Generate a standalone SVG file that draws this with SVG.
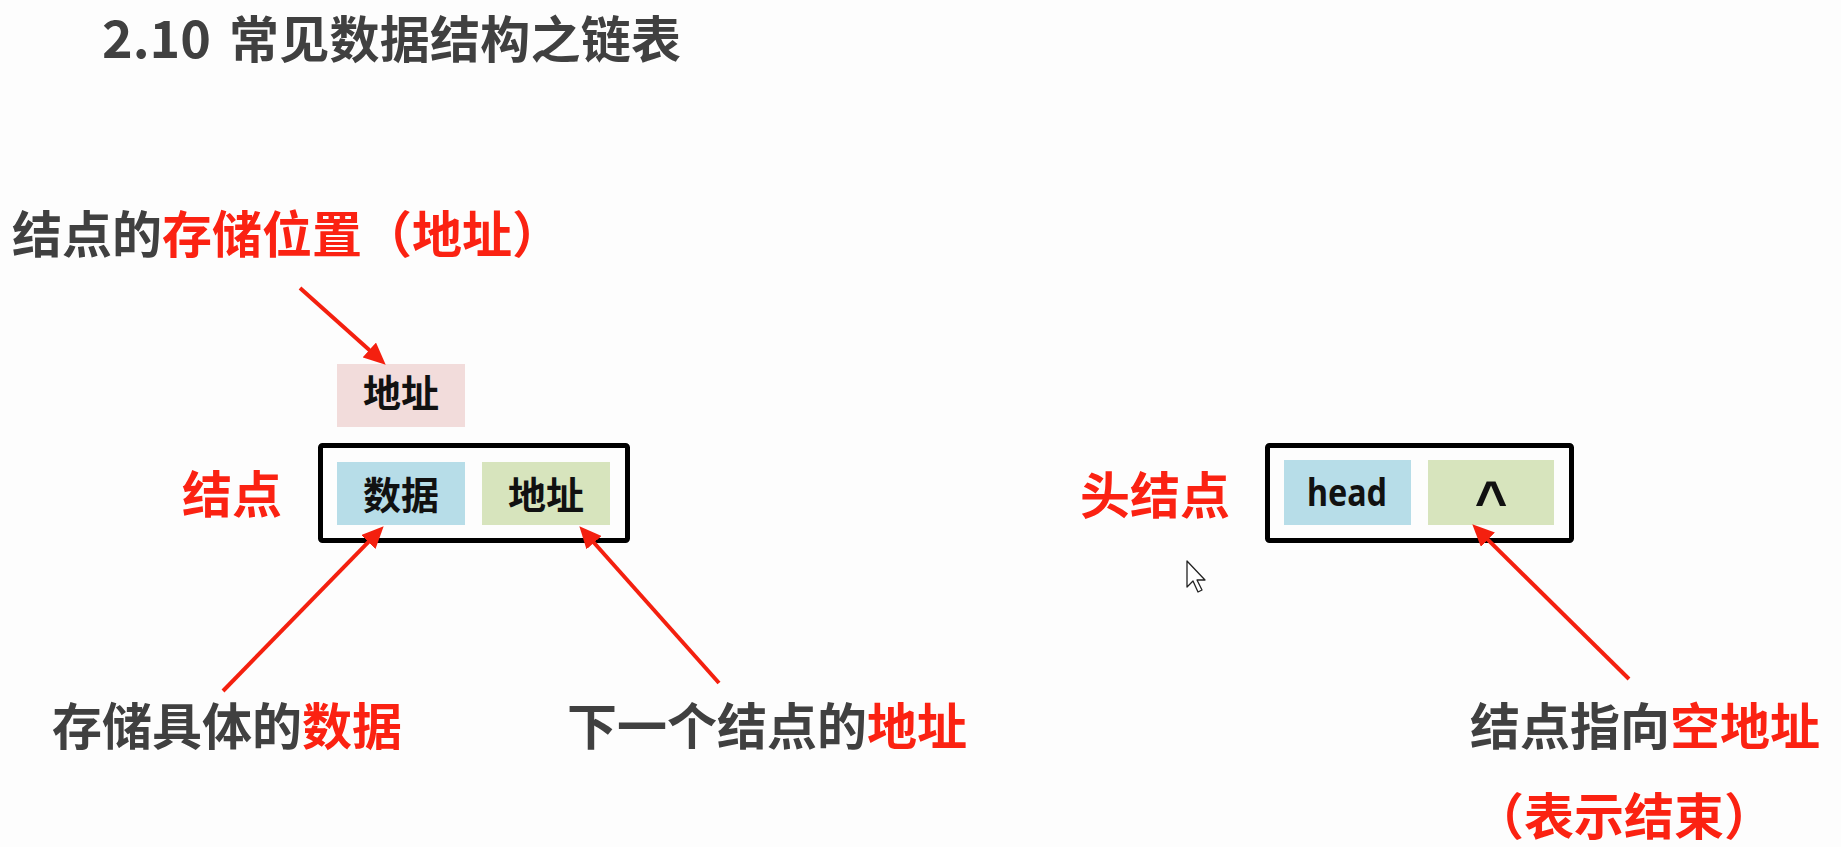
<svg xmlns="http://www.w3.org/2000/svg" width="1841" height="847" viewBox="0 0 1841 847">
  <style>
    .cjk { font-family: "Noto Sans CJK SC", "Noto Sans", sans-serif; font-weight: 700; }
    .gray { fill: #404040; }
    .red { fill: #fb2212; }
    .lbl { font-size: 50px; }
    .cell { font-size: 38px; fill: #111111; text-anchor: middle; }
    .frame { fill: none; stroke: #000000; stroke-width: 5; }
    .arrow { fill: none; stroke: #f4200f; stroke-width: 4; marker-end: url(#ah); }
  </style>
  <defs>
    <marker id="ah" markerUnits="userSpaceOnUse" markerWidth="24" markerHeight="20" refX="9" refY="10" orient="auto">
      <path d="M0,0 L22,10 L0,20 Z" fill="#f4200f"/>
    </marker>
  </defs>
  <rect x="0" y="0" width="1841" height="847" fill="#fdfdfd"/>

  <g id="title">
    <text class="cjk gray" x="102" y="58" font-size="52">2.10</text>
    <text class="cjk gray" x="229" y="58" font-size="50" textLength="452" lengthAdjust="spacing">常见数据结构之链表</text>
  </g>

  <g id="label-storage">
    <text class="cjk lbl" x="12" y="253"><tspan class="gray">结点的</tspan><tspan class="red">存储位置（地址）</tspan></text>
  </g>

  <g id="addr-box">
    <rect x="337" y="364" width="128" height="63" fill="#f2dcdb"/>
    <text class="cjk cell" x="401" y="407">地址</text>
  </g>

  <g id="node-label">
    <text class="cjk lbl red" x="182" y="513">结点</text>
  </g>

  <g id="node">
    <rect class="frame" x="320.5" y="445.5" width="307" height="95" rx="2"/>
    <rect x="337" y="462" width="128" height="63" fill="#b7dde8"/>
    <text class="cjk cell" x="401" y="509">数据</text>
    <rect x="482" y="462" width="128" height="63" fill="#d7e4bd"/>
    <text class="cjk cell" x="546" y="509">地址</text>
  </g>

  <g id="head-label">
    <text class="cjk lbl red" x="1080" y="514">头结点</text>
  </g>

  <g id="head-node">
    <rect class="frame" x="1267.5" y="445.5" width="304" height="95" rx="2"/>
    <rect x="1284" y="460" width="127" height="65" fill="#b7dde8"/>
    <text x="1347" y="506" font-family="'Noto Sans', sans-serif" font-weight="700" font-size="38" fill="#111111" text-anchor="middle" textLength="80" lengthAdjust="spacingAndGlyphs">head</text>
    <rect x="1428" y="460" width="126" height="65" fill="#d7e4bd"/>
    <text x="1491" y="520" font-family="'Liberation Sans', sans-serif" font-weight="700" font-size="56" fill="#111111" text-anchor="middle">^</text>
  </g>

  <g id="text-data">
    <text class="cjk lbl" x="52" y="745"><tspan class="gray">存储具体的</tspan><tspan class="red">数据</tspan></text>
  </g>

  <g id="text-next">
    <text class="cjk lbl" x="567" y="745"><tspan class="gray">下一个结点的</tspan><tspan class="red">地址</tspan></text>
  </g>

  <g id="text-null">
    <text class="cjk lbl" x="1470" y="745"><tspan class="gray">结点指向</tspan><tspan class="red">空地址</tspan></text>
  </g>

  <g id="text-end">
    <text class="cjk lbl red" x="1474" y="835">（表示结束）</text>
  </g>

  <g id="connectors">
    <line class="arrow" x1="300" y1="288" x2="376" y2="356"/>
    <line class="arrow" x1="223" y1="691" x2="374.6" y2="535.6"/>
    <line class="arrow" x1="719" y1="683" x2="588" y2="536"/>
    <line class="arrow" x1="1629" y1="679" x2="1481.5" y2="533.4"/>
  </g>

  <g id="cursor">
    <polygon points="1187,561 1187,587 1193,581 1198,592 1202,590 1197,580 1205,580" fill="#ffffff" stroke="#222222" stroke-width="1.3" stroke-linejoin="round"/>
  </g>
</svg>
